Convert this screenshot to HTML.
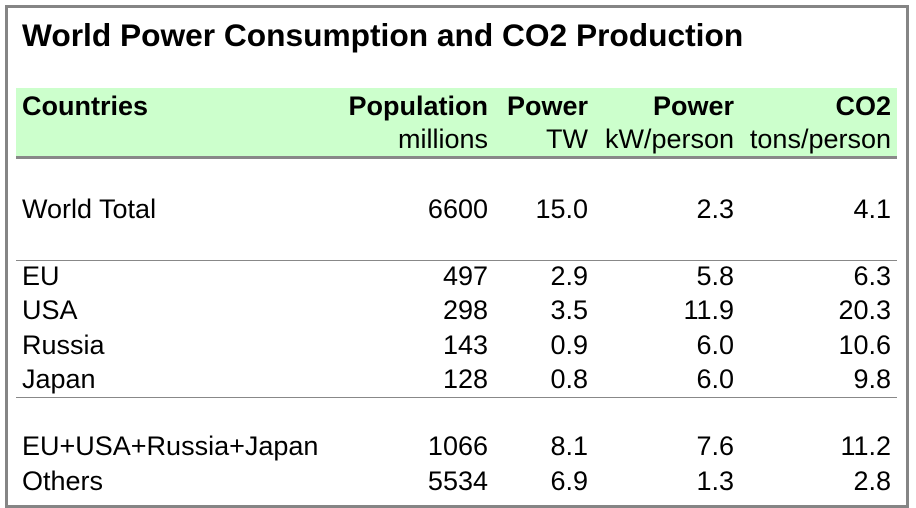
<!DOCTYPE html>
<html><head><meta charset="utf-8"><style>
html,body{margin:0;padding:0;background:#fff;}
body{width:916px;height:508px;position:relative;overflow:hidden;font-family:"Liberation Sans",Arial,sans-serif;color:#000;}
.box{position:absolute;left:5px;top:5px;width:898px;height:497px;border:3px solid #858585;}
.t{position:absolute;font-size:27px;line-height:27px;white-space:nowrap;}
.b{font-weight:bold;}
.r{text-align:right;}
.green{position:absolute;left:16px;top:88px;width:881px;height:68px;background:#ccffcc;}
.hl{position:absolute;left:16px;width:881px;background:#888;}
</style></head><body>
<div class="box"></div>
<div class="t b" style="left:22px;top:19px;font-size:31.7px;line-height:32px;">World Power Consumption and CO2 Production</div>
<div class="green"></div>
<div class="hl" style="top:156px;height:3px;"></div>
<div class="hl" style="top:260px;height:1px;"></div>
<div class="hl" style="top:397px;height:1px;"></div>
<div id="c"></div>
<script>
var rows=[
 [115,true,["Countries","Population","Power","Power","CO2"]],
 [148,false,["","millions","TW","kW/person","tons/person"]],
 [218,false,["World Total","6600","15.0","2.3","4.1"]],
 [285,false,["EU","497","2.9","5.8","6.3"]],
 [319,false,["USA","298","3.5","11.9","20.3"]],
 [354,false,["Russia","143","0.9","6.0","10.6"]],
 [388,false,["Japan","128","0.8","6.0","9.8"]],
 [455,false,["EU+USA+Russia+Japan","1066","8.1","7.6","11.2"]],
 [490,false,["Others","5534","6.9","1.3","2.8"]]];
var rights=[488,588,734,891];
var h="";
rows.forEach(function(r){
 var top=r[0]-22;var cls="t"+(r[1]?" b":"");
 h+='<div class="'+cls+'" style="left:22px;top:'+top+'px">'+r[2][0]+'</div>';
 for(var i=0;i<4;i++){
  h+='<div class="'+cls+' r" style="right:'+(916-rights[i])+'px;top:'+top+'px">'+r[2][i+1]+'</div>';
 }
});
document.getElementById("c").innerHTML=h;
</script>
</body></html>
